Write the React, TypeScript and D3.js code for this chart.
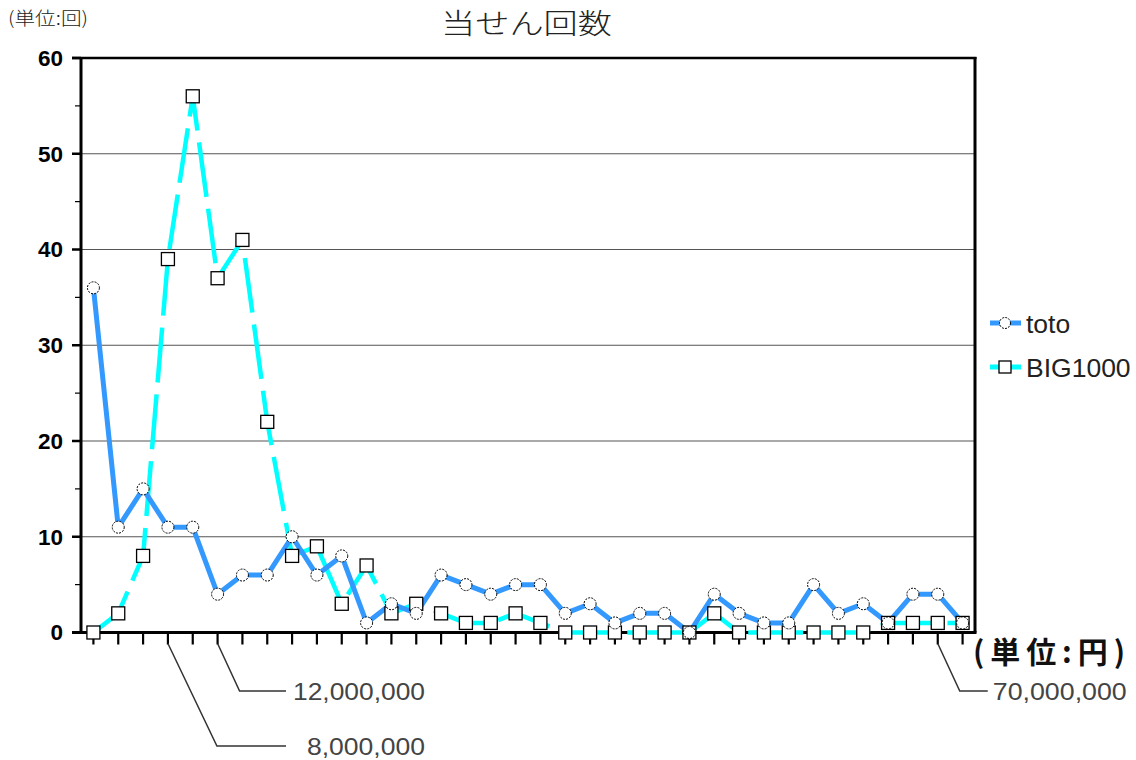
import React from "react";
import * as d3 from "d3";

const categories: number[] = d3.range(36);
const totoValues: number[] = [36, 11, 15, 11, 11, 4, 6, 6, 10, 6, 8, 1, 3, 2, 6, 5, 4, 5, 5, 2, 3, 1, 2, 2, 0, 4, 2, 1, 1, 5, 2, 3, 1, 4, 4, 1];
const bigValues: number[] = [0, 2, 8, 39, 56, 37, 41, 22, 8, 9, 3, 7, 2, 3, 2, 1, 1, 2, 1, 0, 0, 0, 0, 0, 0, 2, 0, 0, 0, 0, 0, 0, 1, 1, 1, 1];
const yTicks: number[] = [0, 10, 20, 30, 40, 50, 60];
const yMinorTicks: number[] = [5, 15, 25, 35, 45, 55];
const annotations = [
  { index: 3, label: "8,000,000", level: 2 },
  { index: 5, label: "12,000,000", level: 1 },
  { index: 34, label: "70,000,000", level: 1 },
];
const seriesNames = ["toto", "BIG1000"];

const W = 1136;
const H = 760;
const left = 81;
const right = 975;
const top = 58;
const bottom = 632.5;

export default function App() {
  const x = d3.scaleBand<number>().domain(categories).range([left, right]);
  const cx = (i: number) => (x(i) as number) + x.bandwidth() / 2;
  const y = d3.scaleLinear().domain([0, 60]).range([bottom, top]);
  const line = d3
    .line<number>()
    .x((_, i) => cx(i))
    .y((d) => y(d));

  const font = "'Liberation Sans', Arial, sans-serif";
  const cjk = "'Noto Sans CJK JP', sans-serif";
  return (
    <svg width={W} height={H} style={{ position: "absolute", left: 0, top: 0, background: "#fff" }}>
      <rect x={0} y={0} width={W} height={H} fill="#fff" />
      {/* unit label */}
      <text x={8} y={25} fontSize={18} fontFamily={cjk} fontWeight={300} fill="#222" textLength={80} lengthAdjust="spacingAndGlyphs">
        (単位:回)
      </text>
      {/* title */}
      <text x={441} y={34} fontSize={28} fontFamily={cjk} fontWeight={300} fill="#222" textLength={171} lengthAdjust="spacingAndGlyphs">
        当せん回数
      </text>
      {/* gridlines */}
      {yTicks.slice(1, -1).map((t) => (
        <line key={"g" + t} x1={left} x2={right} y1={y(t)} y2={y(t)} stroke="#555" strokeWidth={1.2} />
      ))}
      {/* top and right borders */}
      <line x1={72} x2={right + 1.5} y1={y(60)} y2={y(60)} stroke="#000" strokeWidth={2.5} />
      <line x1={right} x2={right} y1={y(60) - 1} y2={bottom} stroke="#000" strokeWidth={3} />
      {/* y axis */}
      <line x1={left} x2={left} y1={y(60)} y2={bottom + 1} stroke="#000" strokeWidth={3} />
      {yTicks.map((t) => (
        <g key={"yt" + t}>
          <line x1={72} x2={left} y1={y(t)} y2={y(t)} stroke="#000" strokeWidth={2.5} />
          <text x={63} y={y(t)} dy="0.35em" textAnchor="end" fontSize={22.5} fontWeight="bold" fontFamily={font} fill="#000">
            {t}
          </text>
        </g>
      ))}
      {yMinorTicks.map((t) => (
        <line key={"ym" + t} x1={75} x2={left} y1={y(t)} y2={y(t)} stroke="#000" strokeWidth={1.2} />
      ))}
      {/* x axis */}
      <line x1={72} x2={right + 1.5} y1={bottom} y2={bottom} stroke="#000" strokeWidth={3} />
      {categories.map((c) => (
        <line key={"xt" + c} x1={cx(c)} x2={cx(c)} y1={bottom} y2={bottom + 12} stroke="#000" strokeWidth={2.2} />
      ))}
      {/* BIG1000 line */}
      <path d={line(bigValues) || ""} fill="none" stroke="#00FFFF" strokeWidth={4.5} strokeDasharray="55 12" />
      {/* toto line */}
      <path d={line(totoValues) || ""} fill="none" stroke="#3399FF" strokeWidth={5} strokeLinejoin="round" />
      {/* BIG markers */}
      {bigValues.map((v, i) => (
        <rect key={"bm" + i} x={cx(i) - 6.5} y={y(v) - 6.5} width={13} height={13} fill="#fff" stroke="#000" strokeWidth={1.3} />
      ))}
      {/* toto markers */}
      {totoValues.map((v, i) => (
        <circle key={"tm" + i} cx={cx(i)} cy={y(v)} r={6} fill="#fff" stroke="#000" strokeWidth={1} strokeDasharray="2 1.2" />
      ))}
      {/* annotations */}
      {annotations.map((a) => {
        const x0 = cx(a.index);
        const ly = a.level === 1 ? 691 : 746;
        const x1 = a.level === 1 ? x0 + 22 : x0 + 49;
        const x2 = a.index === 34 ? x1 + 28 : 286;
        const tx = a.index === 34 ? x2 + 5 : a.level === 1 ? 293 : 307;
        const tl = a.label.length === 9 ? 118 : a.index === 34 ? 134 : 132;
        return (
          <g key={"an" + a.index}>
            <polyline points={`${x0},${bottom + 11} ${x1},${ly} ${x2},${ly}`} fill="none" stroke="#333" strokeWidth={1.5} />
            <text x={tx} y={ly} dy="0.36em" fontSize={24} fontFamily={font} fill="#444" textLength={tl} lengthAdjust="spacingAndGlyphs">
              {a.label}
            </text>
          </g>
        );
      })}
      <text x={973} y={652} dy="0.36em" fontSize={30} fontWeight="bold" fontFamily={cjk} fill="#111" textLength={152} lengthAdjust="spacing">
        (単位:円)
      </text>
      {/* legend */}
      {seriesNames.map((s, i) => {
        const ly = 323 + i * 44;
        return (
          <g key={"lg" + s}>
            <line x1={990} x2={1021} y1={ly} y2={ly} stroke={i === 0 ? "#3399FF" : "#00FFFF"} strokeWidth={5} />
            {i === 0 ? (
              <circle cx={1005} cy={ly} r={5.5} fill="#fff" stroke="#000" strokeWidth={1} strokeDasharray="2 1.2" />
            ) : (
              <rect x={999} y={ly - 6} width={12} height={12} fill="#fff" stroke="#000" strokeWidth={1.3} />
            )}
            <text x={1026} y={ly} dy="0.36em" fontSize={26.5} fontFamily={font} fill="#222">
              {s}
            </text>
          </g>
        );
      })}
    </svg>
  );
}
